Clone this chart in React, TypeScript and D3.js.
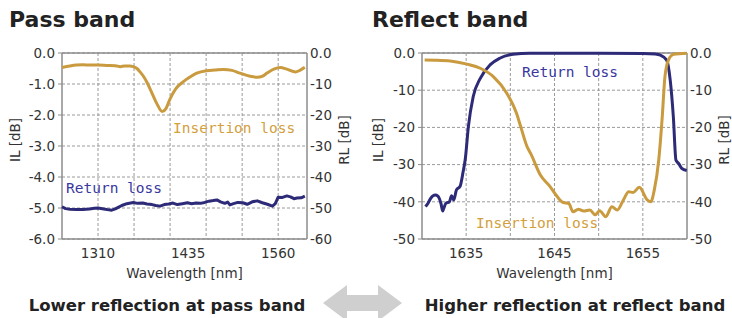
import React from "react";
import * as d3 from "d3";

// ---- data ----
const passWavelengthDomain = [1260, 1600];
const passGridLines = [1310, 1360, 1410, 1460, 1510, 1560];
const passTicks = [1310, 1435, 1560];
const passIL: [number, number][] = [
  [1260, -0.47], [1271, -0.42], [1280, -0.39], [1289, -0.38], [1300, -0.39],
  [1310, -0.39], [1322, -0.4], [1334, -0.41], [1341, -0.44], [1347, -0.42],
  [1354, -0.42], [1359, -0.44], [1364, -0.5], [1368, -0.6], [1373, -0.75],
  [1378, -0.95], [1385, -1.3], [1392, -1.65], [1399, -1.89], [1404, -1.8],
  [1410, -1.48], [1418, -1.15], [1428, -0.93], [1438, -0.77], [1447, -0.65],
  [1461, -0.57], [1472, -0.55], [1484, -0.53], [1496, -0.56], [1507, -0.65],
  [1521, -0.75], [1531, -0.78], [1538, -0.75], [1545, -0.64], [1554, -0.52],
  [1563, -0.47], [1572, -0.52], [1584, -0.61], [1590, -0.56], [1597, -0.46],
];
const passRL: [number, number][] = [
  [1260, -49.6], [1265, -50.2], [1271, -50.4], [1280, -50.5], [1289, -50.5],
  [1298, -50.3], [1305, -50.1], [1310, -50.0], [1318, -50.3], [1325, -50.6],
  [1329, -50.7], [1334, -50.3], [1338, -49.8], [1343, -49.2], [1350, -48.6],
  [1359, -48.2], [1365, -48.5], [1372, -48.4], [1378, -48.7], [1385, -48.9],
  [1390, -49.2], [1396, -49.4], [1402, -48.9], [1408, -48.7], [1414, -48.4],
  [1420, -48.9], [1427, -48.6], [1434, -48.3], [1440, -48.6], [1446, -48.4],
  [1452, -48.5], [1458, -48.2], [1464, -47.8], [1470, -47.6], [1475, -47.4],
  [1480, -48.0], [1486, -48.5], [1490, -48.1], [1493, -49.0], [1498, -48.6],
  [1504, -48.2], [1511, -48.3], [1517, -48.8], [1524, -48.0], [1531, -47.7],
  [1538, -48.3], [1545, -48.8], [1552, -49.4], [1556, -48.6], [1560, -46.5],
  [1566, -46.6], [1572, -46.1], [1577, -46.4], [1582, -47.0], [1586, -46.8],
  [1592, -46.7], [1597, -46.2],
];
const passILTicks = [0, -1, -2, -3, -4, -5, -6];
const passILLabels = ["0.0", "-1.0", "-2.0", "-3.0", "-4.0", "-5.0", "-6.0"];
const passRLLabels = ["0.0", "-10", "-20", "-30", "-40", "-50", "-60"];

const reflectWavelengthDomain = [1630, 1660];
const reflectGridLines = [1635, 1640, 1645, 1650, 1655];
const reflectTicks = [1635, 1645, 1655];
const reflectIL: [number, number][] = [
  [1630.3, -1.9], [1631.5, -1.95], [1633.2, -2.15], [1635.1, -3.0], [1636.6, -4.1],
  [1638.1, -6.4], [1639.6, -10.8], [1640.7, -16.2], [1641.2, -20.0], [1641.9, -25.2],
  [1642.3, -27.0], [1643.4, -32.8], [1644.5, -35.9], [1645.3, -38.6], [1646.0, -40.2],
  [1646.6, -40.4], [1647.1, -42.7], [1647.7, -42.0], [1648.3, -42.5], [1649.0, -42.2],
  [1649.6, -43.5], [1650.1, -42.4], [1650.8, -44.0], [1651.5, -41.3], [1652.1, -42.2],
  [1652.8, -39.5], [1653.4, -37.3], [1653.9, -37.5], [1654.6, -36.1], [1655.5, -39.5],
  [1655.9, -40.0], [1656.3, -36.8], [1656.8, -28.8], [1657.2, -17.1], [1657.5, -6.4],
  [1657.9, -1.9], [1658.5, -0.35], [1660.0, -0.1],
];
const reflectRL: [number, number][] = [
  [1630.4, -41.3], [1630.7, -40.3], [1631.0, -39.0], [1631.5, -38.2], [1631.8, -38.5],
  [1632.15, -40.5], [1632.35, -42.5], [1632.5, -41.5], [1632.7, -40.4], [1633.1, -40.0],
  [1633.35, -38.4], [1633.6, -39.5], [1633.9, -36.8], [1634.3, -35.9], [1634.65, -32.0],
  [1634.9, -28.5], [1635.25, -19.8], [1635.8, -11.7], [1636.6, -6.8], [1637.7, -3.2],
  [1638.8, -1.4], [1640.3, -0.35], [1642.2, -0.1], [1650.0, -0.1], [1655.0, -0.15],
  [1656.4, -0.3], [1657.0, -0.6], [1657.7, -1.9], [1658.1, -7.3], [1658.45, -17.0],
  [1658.75, -28.8], [1659.05, -29.7], [1659.4, -31.0], [1659.97, -31.6],
];
const reflectILTicks = [0, -10, -20, -30, -40, -50];
const reflectILLabels = ["0.0", "-10", "-20", "-30", "-40", "-50"];
const reflectRLLabels = ["0.0", "-10", "-20", "-30", "-40", "-50"];

const GOLD = "#c99a3e";
const GOLD_TEXT = "#d3a03c";
const NAVY = "#2d2a78";
const NAVY_TEXT = "#3a389e";
const GRID = "#9a9a9a";
const AXIS = "#8c8c8c";
const TEXT = "#333";
const SANS = "'DejaVu Sans', Verdana, sans-serif";
const MONO = "'DejaVu Sans Mono', monospace";

const TOP = 53;
const BOTTOM = 239;

type PanelProps = {
  left: number;
  right: number;
  title: string;
  titleX: number;
  xDomain: number[];
  grid: number[];
  ticks: number[];
  ilTicks: number[];
  ilLabels: string[];
  rlLabels: string[];
  il: [number, number][];
  rl: [number, number][];
  rlCurve: d3.CurveFactory;
  ilText: [number, number];
  rlText: [number, number];
  ilTitleX: number;
  rlTitleX: number;
};

function Panel(p: PanelProps) {
  const x = d3.scaleLinear().domain(p.xDomain).range([p.left, p.right]);
  const ilMin = p.ilTicks[p.ilTicks.length - 1];
  const y = d3.scaleLinear().domain([ilMin, 0]).range([BOTTOM, TOP]);
  const rlScale = d3
    .scaleLinear()
    .domain([-(p.rlLabels.length - 1) * 10, 0])
    .range([BOTTOM, TOP]);

  const ilLine = d3
    .line<[number, number]>()
    .x((d) => x(d[0]))
    .y((d) => y(d[1]))
    .curve(d3.curveMonotoneX);
  const rlLine = d3
    .line<[number, number]>()
    .x((d) => x(d[0]))
    .y((d) => rlScale(d[1]))
    .curve(p.rlCurve);

  const midY = (TOP + BOTTOM) / 2 - 6;

  return (
    <g>
      <text x={p.titleX} y={27} fontFamily={SANS} fontWeight="bold" fontSize={22} fill="#222">
        {p.title}
      </text>
      {/* horizontal grid */}
      {p.ilTicks.map((t) => (
        <line key={"h" + t} x1={p.left} x2={p.right} y1={y(t)} y2={y(t)} stroke={GRID} strokeDasharray="3,2" />
      ))}
      {/* vertical grid */}
      {p.grid.map((g) => (
        <line key={"v" + g} x1={x(g)} x2={x(g)} y1={TOP} y2={BOTTOM} stroke={GRID} strokeDasharray="3,2" />
      ))}
      {/* frame */}
      <line x1={p.left} x2={p.right} y1={TOP} y2={TOP} stroke={AXIS} strokeWidth={1.5} />
      <line x1={p.left} x2={p.right} y1={BOTTOM} y2={BOTTOM} stroke={AXIS} strokeWidth={1.5} />
      <line x1={p.left} x2={p.left} y1={TOP} y2={BOTTOM} stroke={AXIS} strokeWidth={1.5} />
      <line x1={p.right} x2={p.right} y1={TOP} y2={BOTTOM} stroke={AXIS} strokeWidth={1.5} />
      {/* left ticks + labels */}
      {p.ilTicks.map((t, i) => (
        <g key={"l" + t}>
          <line x1={p.left - 4} x2={p.left} y1={y(t)} y2={y(t)} stroke={AXIS} />
          <text x={p.left - 7} y={y(t)} dy="0.35em" textAnchor="end" fontFamily={SANS} fontSize={13.5} fill={TEXT}>
            {p.ilLabels[i]}
          </text>
        </g>
      ))}
      {/* right labels */}
      {p.rlLabels.map((lab, i) => (
        <text key={"r" + lab} x={p.right + 3} y={rlScale(-i * 10)} dy="0.35em" fontFamily={SANS} fontSize={13.5} fill={TEXT}>
          {lab}
        </text>
      ))}
      {/* x ticks */}
      {p.ticks.map((t) => (
        <text key={"x" + t} x={x(t)} y={258} textAnchor="middle" fontFamily={SANS} fontSize={13.5} fill={TEXT}>
          {t}
        </text>
      ))}
      <text x={(p.left + p.right) / 2} y={278} textAnchor="middle" fontFamily={SANS} fontSize={13.5} fill={TEXT}>
        Wavelength [nm]
      </text>
      <text
        transform={`translate(${p.ilTitleX},${midY}) rotate(-90)`}
        textAnchor="middle"
        dy="0.35em"
        fontFamily={SANS}
        fontSize={13.5}
        fill={TEXT}
      >
        IL [dB]
      </text>
      <text
        transform={`translate(${p.rlTitleX},${midY}) rotate(-90)`}
        textAnchor="middle"
        dy="0.35em"
        fontFamily={SANS}
        fontSize={13.5}
        fill={TEXT}
      >
        RL [dB]
      </text>
      {/* curves */}
      <path d={rlLine(p.rl) || ""} fill="none" stroke={NAVY} strokeWidth={3} strokeLinejoin="round" />
      <path d={ilLine(p.il) || ""} fill="none" stroke={GOLD} strokeWidth={3} strokeLinejoin="round" />
      <text x={p.ilText[0]} y={p.ilText[1]} fontFamily={MONO} fontSize={14.5} fill={GOLD_TEXT}>
        Insertion loss
      </text>
      <text x={p.rlText[0]} y={p.rlText[1]} fontFamily={MONO} fontSize={14.5} fill={NAVY_TEXT}>
        Return loss
      </text>
    </g>
  );
}

export default function App() {
  return (
    <svg
      width={732}
      height={318}
      style={{ position: "absolute", left: 0, top: 0, background: "#fff" }}
    >
      <Panel
        left={62}
        right={307}
        title="Pass band"
        titleX={9}
        xDomain={passWavelengthDomain}
        grid={passGridLines}
        ticks={passTicks}
        ilTicks={passILTicks}
        ilLabels={passILLabels}
        rlLabels={passRLLabels}
        il={passIL}
        rl={passRL}
        rlCurve={d3.curveLinear}
        ilText={[173, 133]}
        rlText={[66, 193]}
        ilTitleX={15}
        rlTitleX={344}
      />
      <Panel
        left={422}
        right={687}
        title="Reflect band"
        titleX={372}
        xDomain={reflectWavelengthDomain}
        grid={reflectGridLines}
        ticks={reflectTicks}
        ilTicks={reflectILTicks}
        ilLabels={reflectILLabels}
        rlLabels={reflectRLLabels}
        il={reflectIL}
        rl={reflectRL}
        rlCurve={d3.curveMonotoneX}
        ilText={[476, 228]}
        rlText={[522, 77]}
        ilTitleX={378}
        rlTitleX={724}
      />
      {/* double arrow */}
      <path
        d="M323,303 L347,285 L347,295 L378,295 L378,285 L402,303 L378,321 L378,311 L347,311 L347,321 Z"
        fill="#cfcfcf"
      />
      <text x={167} y={311} textAnchor="middle" fontFamily={SANS} fontWeight="bold" fontSize={16.5} fill="#222">
        Lower reflection at pass band
      </text>
      <text x={575} y={311} textAnchor="middle" fontFamily={SANS} fontWeight="bold" fontSize={16.5} fill="#222">
        Higher reflection at reflect band
      </text>
    </svg>
  );
}
